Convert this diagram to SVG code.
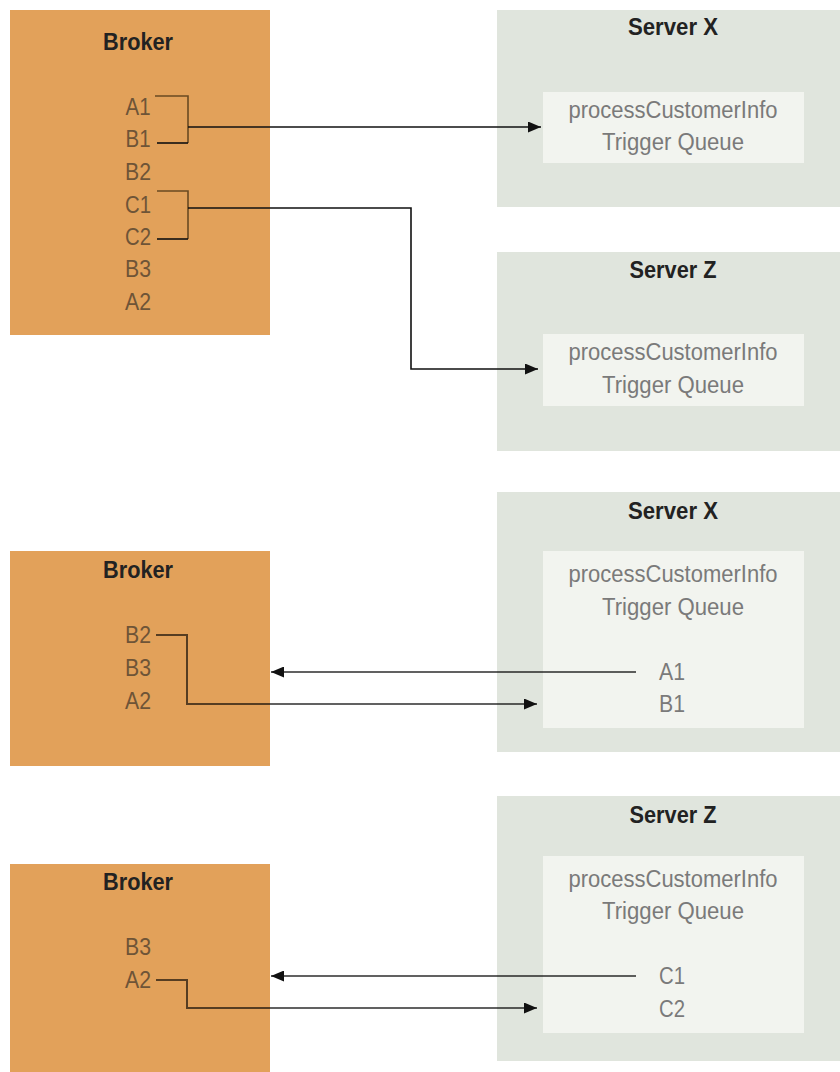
<svg xmlns="http://www.w3.org/2000/svg" width="840" height="1072" viewBox="0 0 840 1072">
<style>
text{font-family:"Liberation Sans",Arial,sans-serif;font-size:23px;text-anchor:middle}
.title{font-weight:bold;fill:#222}
.bi{fill:#6e5437}
.si{fill:#7a7a7a}
.broker{fill:#e2a15a}
.server{fill:#e0e5dd}
.inner{fill:#f2f4ef}
.c{fill:none;stroke:#111;stroke-width:1.6}
.cb{fill:none;stroke:#6a4a22;stroke-width:1.6}
.cs{fill:none;stroke:#000;stroke-opacity:0.62;stroke-width:2}
</style>
<defs>
<marker id="ah" markerUnits="userSpaceOnUse" markerWidth="13" markerHeight="11" refX="13" refY="5.5" orient="auto">
<path d="M0,0 L13,5.5 L0,11 z" fill="#111"/>
</marker>
</defs>

<g id="broker1">
<rect class="broker" x="10" y="10" width="260" height="325"/>
<text class="title" x="138" y="50" textLength="70" lengthAdjust="spacingAndGlyphs">Broker</text>
<text class="bi" x="138" y="115" textLength="25" lengthAdjust="spacingAndGlyphs">A1</text>
<text class="bi" x="138" y="147" textLength="25" lengthAdjust="spacingAndGlyphs">B1</text>
<text class="bi" x="138" y="180" textLength="26" lengthAdjust="spacingAndGlyphs">B2</text>
<text class="bi" x="138" y="213" textLength="26" lengthAdjust="spacingAndGlyphs">C1</text>
<text class="bi" x="138" y="245" textLength="26" lengthAdjust="spacingAndGlyphs">C2</text>
<text class="bi" x="138" y="277" textLength="26" lengthAdjust="spacingAndGlyphs">B3</text>
<text class="bi" x="138" y="310" textLength="26" lengthAdjust="spacingAndGlyphs">A2</text>
</g>

<g id="serverX1">
<rect class="server" x="497" y="10" width="343" height="197"/>
<text class="title" x="673" y="35" textLength="90" lengthAdjust="spacingAndGlyphs">Server X</text>
<rect class="inner" x="543" y="92" width="261" height="71"/>
<text class="si" x="673" y="118" textLength="209" lengthAdjust="spacingAndGlyphs">processCustomerInfo</text>
<text class="si" x="673" y="150" textLength="142" lengthAdjust="spacingAndGlyphs">Trigger Queue</text>
</g>

<g id="serverZ1">
<rect class="server" x="497" y="252" width="343" height="199"/>
<text class="title" x="673" y="278" textLength="87" lengthAdjust="spacingAndGlyphs">Server Z</text>
<rect class="inner" x="543" y="334" width="261" height="72"/>
<text class="si" x="673" y="360" textLength="209" lengthAdjust="spacingAndGlyphs">processCustomerInfo</text>
<text class="si" x="673" y="393" textLength="142" lengthAdjust="spacingAndGlyphs">Trigger Queue</text>
</g>

<g id="broker2">
<rect class="broker" x="10" y="551" width="260" height="215"/>
<text class="title" x="138" y="578" textLength="70" lengthAdjust="spacingAndGlyphs">Broker</text>
<text class="bi" x="138" y="643" textLength="26" lengthAdjust="spacingAndGlyphs">B2</text>
<text class="bi" x="138" y="676" textLength="26" lengthAdjust="spacingAndGlyphs">B3</text>
<text class="bi" x="138" y="709" textLength="26" lengthAdjust="spacingAndGlyphs">A2</text>
</g>

<g id="serverX2">
<rect class="server" x="497" y="492" width="343" height="260"/>
<text class="title" x="673" y="519" textLength="90" lengthAdjust="spacingAndGlyphs">Server X</text>
<rect class="inner" x="543" y="551" width="261" height="177"/>
<text class="si" x="673" y="582" textLength="209" lengthAdjust="spacingAndGlyphs">processCustomerInfo</text>
<text class="si" x="673" y="615" textLength="142" lengthAdjust="spacingAndGlyphs">Trigger Queue</text>
<text class="si" x="672" y="680" textLength="26" lengthAdjust="spacingAndGlyphs">A1</text>
<text class="si" x="672" y="712" textLength="26" lengthAdjust="spacingAndGlyphs">B1</text>
</g>

<g id="broker3">
<rect class="broker" x="10" y="864" width="260" height="208"/>
<text class="title" x="138" y="890" textLength="70" lengthAdjust="spacingAndGlyphs">Broker</text>
<text class="bi" x="138" y="955" textLength="26" lengthAdjust="spacingAndGlyphs">B3</text>
<text class="bi" x="138" y="988" textLength="26" lengthAdjust="spacingAndGlyphs">A2</text>
</g>

<g id="serverZ2">
<rect class="server" x="497" y="796" width="343" height="265"/>
<text class="title" x="673" y="823" textLength="87" lengthAdjust="spacingAndGlyphs">Server Z</text>
<rect class="inner" x="543" y="856" width="261" height="177"/>
<text class="si" x="673" y="887" textLength="209" lengthAdjust="spacingAndGlyphs">processCustomerInfo</text>
<text class="si" x="673" y="919" textLength="142" lengthAdjust="spacingAndGlyphs">Trigger Queue</text>
<text class="si" x="672" y="984" textLength="26" lengthAdjust="spacingAndGlyphs">C1</text>
<text class="si" x="672" y="1017" textLength="26" lengthAdjust="spacingAndGlyphs">C2</text>
</g>

<g id="connectors">
<path class="cb" d="M155,96 H188 V143"/>
<path class="c" d="M157,143 H188"/>
<path class="c" d="M188,127 H541" marker-end="url(#ah)"/>
<path class="cb" d="M157,191 H188 V239"/>
<path class="c" d="M157,239 H188"/>
<path class="c" d="M188,208 H411 V369 H538" marker-end="url(#ah)"/>
<path class="cs" d="M156,635 H187 V704 H537" marker-end="url(#ah)"/>
<path class="cs" d="M636,672 H271" marker-end="url(#ah)"/>
<path class="cs" d="M156,980 H187 V1008 H537" marker-end="url(#ah)"/>
<path class="cs" d="M636,976 H271" marker-end="url(#ah)"/>
</g>
</svg>
